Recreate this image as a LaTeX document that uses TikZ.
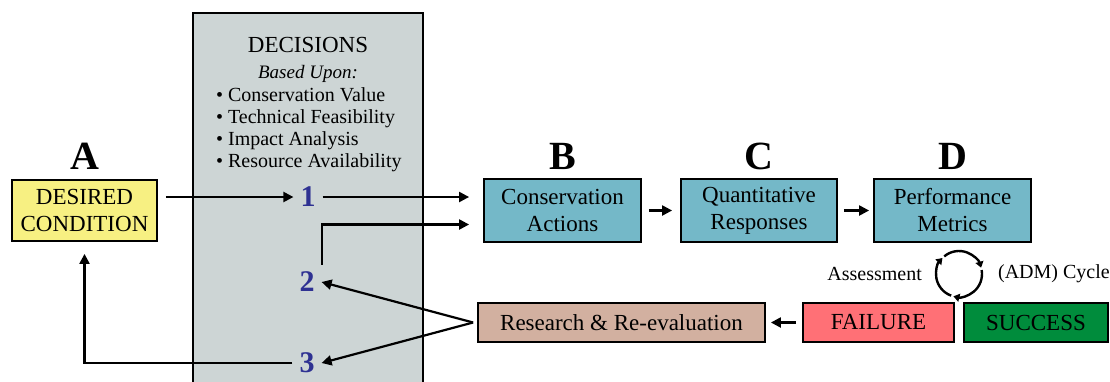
\documentclass[tikz,border=0pt]{standalone}
\usepackage{fontspec}
\setmainfont{Liberation Serif}
\usetikzlibrary{arrows.meta, positioning}

\definecolor{desiredyellow}{RGB}{247,240,130}
\definecolor{actionteal}{RGB}{116,184,200}
\definecolor{panelgray}{RGB}{205,213,213}
\definecolor{researchtan}{RGB}{210,176,160}
\definecolor{failred}{RGB}{255,112,118}
\definecolor{successgreen}{RGB}{0,140,60}
\definecolor{stepblue}{RGB}{46,49,146}

\begin{document}
\begin{tikzpicture}[
            x = 0.5pt,
            y = -0.5pt,
            > = {Triangle[length=5pt, width=5pt]},
            line width = 1.1pt,
            box/.style = {draw, line width=0.9pt, align=center, inner sep=1pt,
                          font=\fontsize{11.5}{13.5}\selectfont},
            letter/.style = {font=\fontsize{20}{24}\selectfont\bfseries, inner sep=0pt},
            stepnum/.style = {text=stepblue, font=\fontsize{15}{17}\selectfont\bfseries, inner sep=3pt},
            cycletext/.style = {font=\fontsize{10}{12}\selectfont, inner sep=0pt}
        ]
        \useasboundingbox (0,0) rectangle (1110,381);

        % decisions panel
        \fill[panelgray] (193,13) rectangle (423,390);
        \draw[line width=0.9pt] (193,390) -- (193,13) -- (423,13) -- (423,390);
        \node[font=\fontsize{11.5}{13}\selectfont] (dectitle) at (308,45) {DECISIONS};
        \node[font=\fontsize{9.5}{11}\selectfont\itshape, anchor=base] (basis) at (308,78) {Based Upon:};
        \foreach \entry [count=\i] in {Conservation Value, Technical Feasibility,
                                       Impact Analysis, Resource Availability}
            \node[font=\fontsize{10}{11}\selectfont, anchor=base west, inner sep=0pt]
                (crit\i) at (215,79.6+22*\i) {\textbullet\ \entry};

        % boxes
        \node[box, fill=desiredyellow, minimum width=72.5pt, minimum height=30.5pt]
            (desired) at (84.5,210.5) {DESIRED\\CONDITION};
        \node[box, fill=actionteal, minimum width=78.5pt, minimum height=31.5pt]
            (actions) at (562.5,210.5) {Conservation\\Actions};
        \node[box, fill=actionteal, minimum width=78pt, minimum height=31.5pt]
            (responses) at (759,210.5) {Quantitative\\Responses};
        \node[box, fill=actionteal, minimum width=78.5pt, minimum height=31.5pt]
            (metrics) at (952.5,210.5) {Performance\\Metrics};
        \node[box, fill=researchtan, minimum width=143.5pt, minimum height=19.5pt]
            (research) at (621.5,322.5) {Research \& Re-evaluation};
        \node[box, fill=failred, minimum width=75.5pt, minimum height=19.5pt]
            (failure) at (878.5,322.5) {FAILURE};
        \node[box, fill=successgreen, minimum width=72pt, minimum height=19.5pt]
            (success) at (1036,322.5) {SUCCESS};

        % letters
        \node[letter, above=4.5pt of desired] (lA) {A};
        \node[letter, above=3.5pt of actions] (lB) {B};
        \node[letter, above=3.5pt of responses] (lC) {C};
        \node[letter, above=3.5pt of metrics] (lD) {D};

        % numbers
        \node[stepnum] (n1) at (308,197) {1};
        \node[stepnum] (n2) at (307,282) {2};
        \node[stepnum] (n3) at (307,363) {3};

        % connectors
        \draw[->, shorten <=4pt] (n1 -| desired.east) -- (n1);
        \draw[->, shorten >=7pt] (n1) -- (n1 -| actions.west);
        \draw[->, shorten >=7pt] (n2.north east) |- ([yshift=-7pt]actions.west);
        \draw[->, shorten >=6pt] (n3.west) -| (desired.south);
        \draw[->] ([xshift=-2pt]research.west) -- (n2.east);
        \draw[->] ([xshift=-2pt]research.west) -- (n3.east);
        \draw[->, shorten <=3.5pt, shorten >=4pt] (actions) -- (responses);
        \draw[->, shorten <=3pt, shorten >=2pt] (responses) -- (metrics);
        \draw[->, shorten <=3pt, shorten >=2.5pt] (failure) -- (research);

        % assessment cycle
        \coordinate (cyc) at (959,274);
        \foreach \a in {250,130,10}
            \draw[-{Triangle[length=3pt, width=4pt]}, line width=1.2pt]
                ([shift={(\a:11.5pt)}]cyc) arc[start angle=\a, end angle=\a-114, radius=11.5pt];
        \node[cycletext, left=18pt of cyc] (assess) {Assessment};
        \node[cycletext, right=19pt of cyc] (admcycle) {(ADM) Cycle};
    \end{tikzpicture}
\end{document}
